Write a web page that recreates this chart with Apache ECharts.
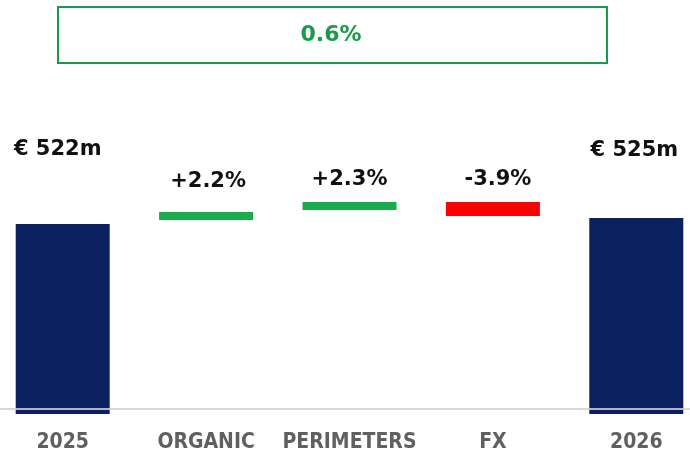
<!DOCTYPE html>
<html>
<head>
<meta charset="utf-8">
<script src="https://cdn.jsdelivr.net/npm/echarts@6/dist/echarts.min.js"></script>
<style>
  html, body { margin: 0; padding: 0; background: #fff; }
  #chart { width: 690px; height: 458px; }
</style>
</head>
<body>
<div id="chart"></div>
<script>
// bridge categories
const categories = ["2025", "ORGANIC", "PERIMETERS", "FX", "2026"];
// start / end totals (€ m)
const totals = [522, "-", "-", "-", 525];
const totalLabels = ["€ 522m", "", "", "", "€ 525m"];
// floating steps, drawn levels
const stepLow = ["-", 524, 529, 526, "-"];
const stepHigh = ["-", 528, 533, 533, "-"];
const stepLabels = ["", "+2.2%", "+2.3%", "-3.9%", ""];
const stepColors = ["", "#1aab4b", "#1aab4b", "#ff0000", ""];
const changeLabel = "0.6%";

const labelFont = { fontFamily: "DejaVu Sans", fontWeight: "bold", fontSize: 21, color: "#111" };
// label gap above each bar (the reference puts them at fixed heights)
const totalGap = [64, 0, 0, 0, 57];
const stepGap = [0, 20, 12, 12, 0];
const labelShift = [-5, 2, 0, 5, -2];

const chart = echarts.init(document.getElementById("chart"));

chart.setOption({
  animation: false,
  grid: { left: -9, right: -18, top: 148, bottom: 44, outerBoundsMode: "none", containLabel: false },
  xAxis: {
    type: "category",
    data: categories,
    axisLine: { show: false },
    axisTick: { show: false },
    axisLabel: {
      interval: 0,
      margin: 18,
      color: "#606060",
      fontFamily: "Liberation Sans Narrow, DejaVu Sans Condensed, sans-serif",
      fontWeight: "bold",
      fontSize: 21,
    },
  },
  yAxis: {
    type: "value",
    min: 427,
    max: 560,
    show: false,
    splitLine: { show: false },
  },
  series: [
    {
      name: "total",
      type: "bar",
      barWidth: 94,
      barGap: "-100%",
      itemStyle: { color: "#0b205e" },
      data: totals.map((v, i) => ({
        value: v,
        label: {
          show: v !== "-",
          position: "top",
          distance: totalGap[i],
          offset: [labelShift[i], 0],
          formatter: () => totalLabels[i],
          ...labelFont,
        },
      })),
      markLine: {
        silent: true,
        symbol: "none",
        label: { show: false },
        lineStyle: { color: "rgba(205,208,215,0.85)", width: 2, type: "solid" },
        data: [{ yAxis: 429.5 }],
        z: 10,
      },
    },
    {
      name: "base",
      type: "bar",
      stack: "step",
      barWidth: 94,
      barGap: "-100%",
      itemStyle: { color: "transparent" },
      data: stepLow,
    },
    {
      name: "step",
      type: "bar",
      stack: "step",
      barWidth: 94,
      barGap: "-100%",
      data: stepHigh.map((v, i) => ({
        value: v === "-" ? "-" : v - stepLow[i],
        itemStyle: { color: stepColors[i] || "transparent" },
        label: {
          show: v !== "-",
          position: "top",
          distance: stepGap[i],
          offset: [labelShift[i], 0],
          formatter: () => stepLabels[i],
          ...labelFont,
        },
      })),
    },
  ],
  graphic: [
    {
      type: "rect",
      left: 57,
      top: 6,
      shape: { width: 549, height: 56 },
      style: { fill: "#fff", stroke: "#1a9b4b", lineWidth: 2 },
    },
    {
      type: "text",
      x: 331,
      y: 35,
      style: {
        text: changeLabel,
        fill: "#1a9b4b",
        font: "bold 22px DejaVu Sans",
        textAlign: "center",
        textVerticalAlign: "middle",
      },
    },
  ],
});
</script>
</body>
</html>
